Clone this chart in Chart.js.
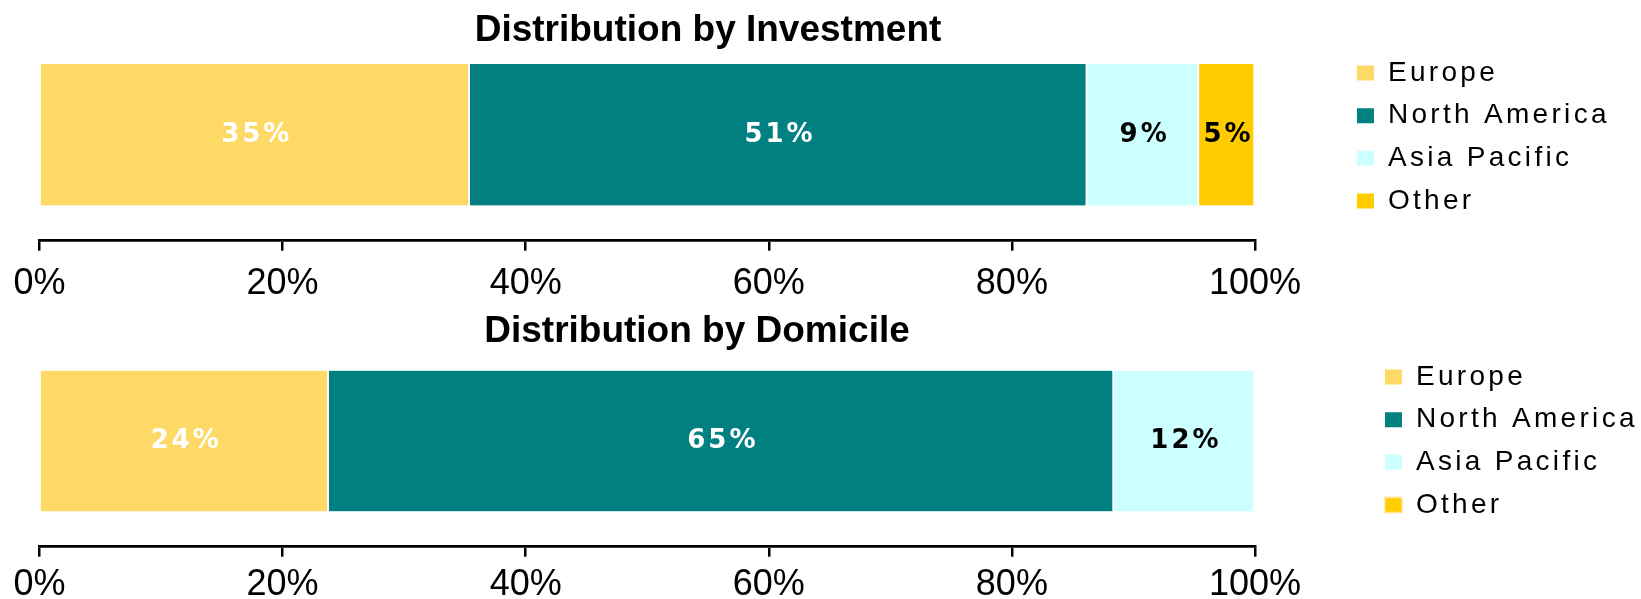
<!DOCTYPE html>
<html>
<head>
<meta charset="utf-8">
<script src="https://cdn.jsdelivr.net/npm/chart.js@4.4.1/dist/chart.umd.min.js"></script>
<style>
html,body{margin:0;padding:0;background:#ffffff;width:1641px;height:599px;overflow:hidden;}
canvas{position:absolute;left:0;}
#invest{top:0;}
#domicile{top:300px;}
</style>
</head>
<body>
<canvas id="invest" width="1641" height="300"></canvas>
<canvas id="domicile" width="1641" height="299"></canvas>
<script>
// ---- data ----
const REGIONS = ['Europe', 'North America', 'Asia Pacific', 'Other'];
const INVESTMENT_CATEGORY = ['Investment'];
const DOMICILE_CATEGORY = ['Domicile'];
const INVESTMENT_VALUES = [35.4, 50.8, 9.2, 4.6];
const DOMICILE_VALUES = [23.8, 64.6, 11.6, 0];
const TICK_VALUES = [0, 20, 40, 60, 80, 100];
const TICK_LABELS = ['0%', '20%', '40%', '60%', '80%', '100%'];
const INVESTMENT_TITLE = 'Distribution by Investment';
const DOMICILE_TITLE = 'Distribution by Domicile';

// ---- styles ----
const REGION_COLORS = ['#FFD966', '#008080', '#CCFFFF', '#FFCC00'];
const LABEL_COLORS = ['#FFFFFF', '#FFFFFF', '#000000', '#000000'];

const panelTitle = {
  id: 'panelTitle',
  afterDraw(chart, args, o) {
    const ctx = chart.ctx;
    ctx.save();
    ctx.font = 'bold ' + o.size + 'px "Liberation Sans", Arial, sans-serif';
    ctx.fillStyle = o.color;
    ctx.textAlign = 'center';
    ctx.textBaseline = 'alphabetic';
    ctx.fillText(o.text, o.x, o.y);
    ctx.restore();
  }
};

const barValues = {
  id: 'barValues',
  afterDatasetsDraw(chart, args, o) {
    const ctx = chart.ctx;
    chart.data.datasets.forEach((ds, i) => {
      const meta = chart.getDatasetMeta(i);
      meta.data.forEach((bar, j) => {
        const v = ds.data[j];
        if (!v) return;
        const c = bar.getCenterPoint();
        ctx.save();
        ctx.font = 'bold ' + o.size + 'px "DejaVu Sans", sans-serif';
        ctx.letterSpacing = o.spacing + 'px';
        ctx.fillStyle = LABEL_COLORS[i];
        ctx.textAlign = 'center';
        ctx.textBaseline = 'middle';
        ctx.fillText(Math.round(v) + '%', c.x + o.spacing / 2, c.y + o.dy);
        ctx.restore();
      });
    });
  }
};

// widen legend glyph spacing; lift the legend clip so spaced text is not cut
const spacedLegend = {
  id: 'spacedLegend',
  beforeDraw(chart, args, o) {
    const lg = chart.legend;
    if (lg && !lg._spaced) {
      const orig = lg.draw;
      lg.draw = function (...a) {
        const c = this.ctx;
        const prev = c.letterSpacing;
        const r = this.right;
        this.right = chart.width;
        c.letterSpacing = o.spacing + 'px';
        try { return orig.apply(this, a); } finally { c.letterSpacing = prev; this.right = r; }
      };
      lg._spaced = true;
    }
  }
};

function makeChart(id, category, values, titleText, L) {
  return new Chart(document.getElementById(id), {
    type: 'bar',
    data: {
      labels: category,
      datasets: REGIONS.map((name, i) => ({
        label: name,
        data: [values[i]],
        backgroundColor: REGION_COLORS[i],
        borderColor: '#FFFFFF',
        borderWidth: { left: 0, right: 2, top: 0, bottom: 0 },
        borderSkipped: false,
        barThickness: L.barThickness
      }))
    },
    options: {
      indexAxis: 'y',
      responsive: false,
      animation: false,
      events: [],
      layout: { padding: { top: L.padTop, left: 39.5, right: L.padRight, bottom: 0 } },
      scales: {
        x: {
          stacked: true,
          min: 0,
          max: 100,
          position: 'bottom',
          afterBuildTicks: s => { s.ticks = TICK_VALUES.map(v => ({ value: v })); },
          afterFit: s => { s.height = L.xAxisHeight; },
          ticks: {
            callback: (v, i) => TICK_LABELS[i],
            font: { family: 'Liberation Sans', size: 36 },
            color: '#000000',
            padding: L.tickPad,
            maxRotation: 0,
            autoSkip: false
          },
          grid: { drawOnChartArea: false, drawTicks: true, tickLength: 10, color: '#000000', lineWidth: 2.5 },
          border: { display: true, color: '#000000', width: 2.7 }
        },
        y: {
          stacked: true,
          position: 'right',
          afterFit: s => { s.width = L.legendGap; },
          ticks: { display: false },
          grid: { display: false },
          border: { display: false }
        }
      },
      plugins: {
        tooltip: { enabled: false },
        title: { display: false },
        legend: {
          position: 'right',
          align: 'center',
          fullSize: false,
          title: { display: L.legendShift > 0, text: ' ', padding: 0, font: { size: L.legendShift || 1, lineHeight: 1 } },
          labels: {
            boxWidth: 17,
            boxHeight: 15,
            padding: 14.7,
            color: '#000000',
            font: { family: 'Liberation Sans', size: 28 },
            generateLabels(chart) {
              const items = Chart.defaults.plugins.legend.labels.generateLabels(chart);
              items.forEach((it, k) => {
                it.lineWidth = 0;
                if (L.dottedOther && k === items.length - 1) {
                  it.lineWidth = 2;
                  it.strokeStyle = '#FFE58F';
                  it.lineDash = [2, 1];
                }
              });
              return items;
            }
          }
        },
        panelTitle: { text: titleText, x: L.titleX, y: L.titleY, size: 37, color: '#000000' },
        barValues: { size: 26, spacing: 3, dy: 0 },
        spacedLegend: { spacing: 3.3 }
      }
    },
    plugins: [panelTitle, barValues, spacedLegend]
  });
}

makeChart('invest', INVESTMENT_CATEGORY, INVESTMENT_VALUES, INVESTMENT_TITLE, {
  padTop: 28.8, padRight: 64.1, xAxisHeight: 59.3, legendGap: 87.3, tickPad: 12, legendShift: 4.5,
  barThickness: 141.5, titleX: 708, titleY: 40.5, dottedOther: false
});
makeChart('domicile', DOMICILE_CATEGORY, DOMICILE_VALUES, DOMICILE_TITLE, {
  padTop: 35.3, padRight: 36.1, xAxisHeight: 52.3, legendGap: 115.3, tickPad: 7, legendShift: 0,
  barThickness: 140.6, titleX: 697, titleY: 42, dottedOther: true
});
</script>
</body>
</html>
